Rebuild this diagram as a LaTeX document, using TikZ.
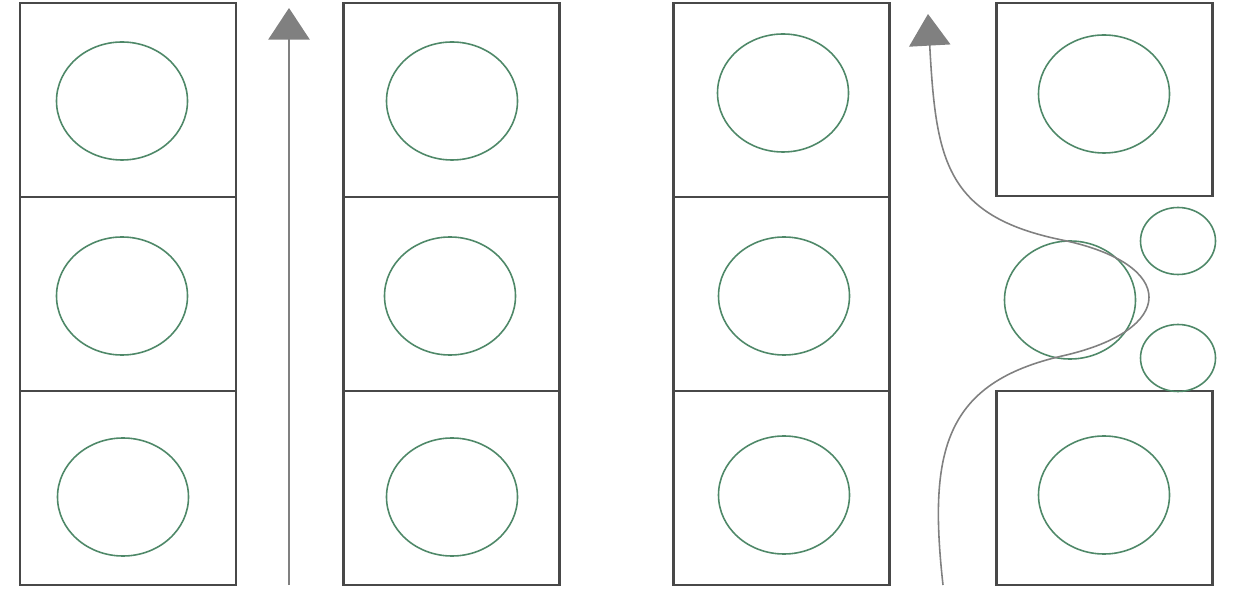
\documentclass[tikz,border=0pt]{standalone}
\usepackage{tikz}
\usetikzlibrary{arrows.meta,shapes.geometric}
\definecolor{wallGray}{RGB}{72,72,72}
\definecolor{cellGreen}{RGB}{78,136,104}
\definecolor{flowGray}{RGB}{128,128,128}

\begin{document}
\begin{tikzpicture}[x=0.2mm, y=-0.2mm,
  cellbox/.style={draw=wallGray, line width=1.2pt, minimum width=43.2mm, minimum height=38.8mm, inner sep=0pt},
  cell/.style={ellipse, draw=cellGreen, line width=0.9pt, minimum width=26.2mm, minimum height=23.6mm, inner sep=0pt},
  small/.style={ellipse, draw=cellGreen, line width=0.9pt, minimum width=15mm, minimum height=13.4mm, inner sep=0pt},
  flow/.style={-{Triangle[length=18pt, width=23.5pt]}, line width=0.9pt, flowGray}]
  \useasboundingbox (0,0) rectangle (1234,590);
  % left panel: straight channel
  \node[cellbox] (la1) at (128,100) {};
  \node[cellbox] (la2) at (128,294) {};
  \node[cellbox] (la3) at (128,488) {};
  \node[cellbox] (lb1) at (451.5,100) {};
  \node[cellbox] (lb2) at (451.5,294) {};
  \node[cellbox] (lb3) at (451.5,488) {};
  \node[cell] (lc1) at (122,101) {};
  \node[cell] (lc2) at (122,296) {};
  \node[cell] (lc3) at (123,497) {};
  \node[cell] (ld1) at (452,101) {};
  \node[cell] (ld2) at (450,296) {};
  \node[cell] (ld3) at (452,497) {};
  \coordinate (lin) at (289,585);
  \coordinate (lout) at (289,8);
  \draw[flow] (lin) -- (lout);
  % right panel: channel with escaping cells
  \node[cellbox] (ra1) at (781.5,100) {};
  \node[cellbox] (ra2) at (781.5,294) {};
  \node[cellbox] (ra3) at (781.5,488) {};
  \node[cellbox, minimum height=38.6mm] (rb1) at (1104.5,99.5) {};
  \node[cellbox] (rb3) at (1104.5,488) {};
  \node[cell] (rc1) at (783,93) {};
  \node[cell] (rc2) at (784,296) {};
  \node[cell] (rc3) at (784,495) {};
  \node[cell] (rd1) at (1104,94) {};
  \node[cell] (rd3) at (1104,495) {};
  \node[cell] (rmid) at (1070,300) {};
  \node[small] (rup) at (1178,241) {};
  \node[small] (rlo) at (1178,358) {};
  \coordinate (rin) at (943,585);
  \coordinate (rout) at (928,14);
  \draw[flow] (rin) .. controls (928,450) and (945,383) .. (1062,356)
    .. controls (1178,330) and (1178,264) .. (1062,240)
    .. controls (945,216) and (936,160) .. (rout);
\end{tikzpicture}
\end{document}
